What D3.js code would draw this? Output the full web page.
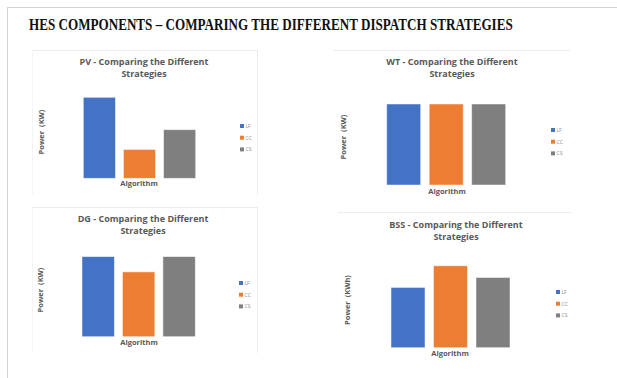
<!DOCTYPE html>
<html>
<head>
<meta charset="utf-8">
<script src="https://cdn.jsdelivr.net/npm/d3@7"></script>
<style>
  html, body { margin: 0; padding: 0; background: #fff; }
  svg { display: block; }
  .ptitle { font-family: "Open Sans", sans-serif; font-weight: 700; fill: #595959; }
  .alabel { font-family: "Open Sans", sans-serif; font-weight: 700; fill: #595959; white-space: pre; }
  .leg { font-family: "Open Sans", sans-serif; fill: #8c8c8c; }
</style>
</head>
<body>
<svg id="chart" width="617" height="378"></svg>
<script>
// Dispatch strategies compared in every panel
const algorithms = ["LF", "CC", "CS"];
const algorithmColors = ["#4472C4", "#ED7D31", "#7F7F7F"];

// Component results per strategy (relative units, no axis scale shown)
const pvPower = [90, 32, 54];
const wtPower = [90, 90, 90];
const dgPower = [89, 72, 89];
const bssEnergy = [67, 91, 78];

const componentNames = ["PV", "WT", "DG", "BSS"];
const yAxisTitles = ["Power  (KW)", "Power  (KW)", "Power  (KW)", "Power  (KWh)"];
const xAxisTitle = "Algorithm";
const mainTitle = "HES COMPONENTS \u2013 COMPARING THE DIFFERENT DISPATCH STRATEGIES";

const seriesByPanel = [pvPower, wtPower, dgPower, bssEnergy];

// Panel placement on the page
const layout = [
  { box: [32, 50, 225, 145], sides: "tlr", cx: 144, ty: 64.5, bars: [83.3, 195.7], base: 178.3, yl: [44, 132], al: [139, 186], lg: [240, 126] },
  { box: [333, 50, 237, 150], sides: "t",  cx: 452, ty: 64.5, bars: [386.7, 505.7], base: 185, yl: [346, 137], al: [447, 193.5], lg: [551, 130] },
  { box: [32, 207, 225, 146], sides: "tlr", cx: 143, ty: 221.5, bars: [82, 195.3], base: 336.7, yl: [43, 290], al: [139, 344.5], lg: [239, 283] },
  { box: [338, 212, 234, 150], sides: "t",  cx: 456, ty: 227.5, bars: [391, 510], base: 347.7, yl: [350, 300], al: [450, 356], lg: [556, 292] }
];

const svg = d3.select("#chart");

// Outer frame (top and left rules)
svg.append("line").attr("x1", 7).attr("y1", 7.5).attr("x2", 617).attr("y2", 7.5)
  .attr("stroke", "#d4d4d4").attr("stroke-width", 1);
svg.append("line").attr("x1", 7.5).attr("y1", 7).attr("x2", 7.5).attr("y2", 378)
  .attr("stroke", "#d4d4d4").attr("stroke-width", 1);

// Main heading, narrowed horizontally to a condensed look
const heading = svg.append("text")
  .attr("x", 0).attr("y", 0)
  .style("font-family", "'Liberation Serif', 'Times New Roman', serif")
  .style("font-weight", 700).style("font-size", "17.5px").style("fill", "#111")
  .text(mainTitle);
const natural = heading.node().getComputedTextLength();
heading.attr("transform", `translate(29,29.5) scale(${484 / natural},1)`);

layout.forEach((L, i) => {
  const g = svg.append("g");
  const values = seriesByPanel[i];
  const [bx, by, bw, bh] = L.box;

  // Faint chart-area border
  const edge = "#ececec";
  if (L.sides.includes("t")) g.append("line").attr("x1", bx).attr("x2", bx + bw).attr("y1", by + 0.5).attr("y2", by + 0.5).attr("stroke", edge);
  if (L.sides.includes("l")) g.append("line").attr("x1", bx + 0.5).attr("x2", bx + 0.5).attr("y1", by).attr("y2", by + bh).attr("stroke", "#f4f4f4");
  if (L.sides.includes("r")) g.append("line").attr("x1", bx + bw + 0.5).attr("x2", bx + bw + 0.5).attr("y1", by).attr("y2", by + bh).attr("stroke", edge);

  // Two-line chart title
  g.append("text").attr("class", "ptitle").attr("text-anchor", "middle")
    .attr("x", L.cx).attr("y", L.ty).style("font-size", "9px")
    .text(componentNames[i] + " - Comparing the Different");
  g.append("text").attr("class", "ptitle").attr("text-anchor", "middle")
    .attr("x", L.cx).attr("y", L.ty + 12.4).style("font-size", "9px")
    .text("Strategies");

  // Scales
  const x = d3.scaleBand().domain(algorithms).range(L.bars).paddingInner(0.2).paddingOuter(0);
  const y = d3.scaleLinear().domain([0, 100]).range([L.base, L.base - 90]);
  const color = d3.scaleOrdinal().domain(algorithms).range(algorithmColors);

  g.selectAll("rect.bar").data(algorithms.map((a, k) => ({ a, v: values[k] })))
    .join("rect").attr("class", "bar")
    .attr("x", d => x(d.a)).attr("width", x.bandwidth())
    .attr("y", d => y(d.v)).attr("height", d => y(0) - y(d.v))
    .attr("fill", d => color(d.a))
    .attr("stroke", "rgba(255,255,255,0.6)").attr("stroke-width", 0.8);

  // Axis titles
  g.append("text").attr("class", "alabel").attr("text-anchor", "middle")
    .attr("transform", `translate(${L.yl[0]},${L.yl[1]}) rotate(-90)`)
    .style("font-size", "7.5px").text(yAxisTitles[i]);
  g.append("text").attr("class", "alabel").attr("text-anchor", "middle")
    .attr("x", L.al[0]).attr("y", L.al[1])
    .style("font-size", "7.5px").text(xAxisTitle);

  // Legend
  const lg = g.append("g").attr("transform", `translate(${L.lg[0]},${L.lg[1]})`);
  algorithms.forEach((a, k) => {
    const row = lg.append("g").attr("transform", `translate(0,${k * 11.7})`);
    row.append("rect").attr("x", 0).attr("y", -2).attr("width", 4).attr("height", 4).attr("fill", color(a));
    row.append("text").attr("class", "leg").attr("x", 5.5).attr("y", 1.8)
      .style("font-size", "5px").text(a);
  });
});
</script>
</body>
</html>
